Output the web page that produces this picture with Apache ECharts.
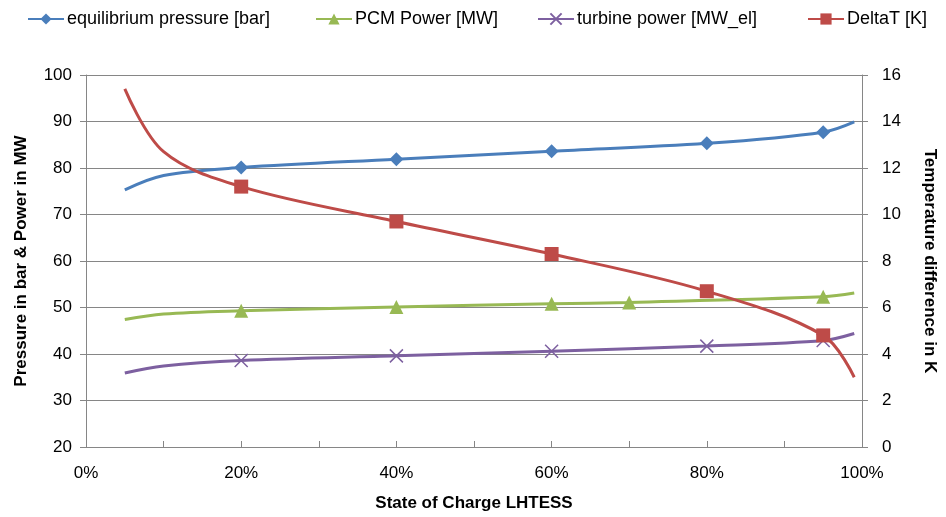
<!DOCTYPE html>
<html>
<head>
<meta charset="utf-8">
<script src="https://cdn.jsdelivr.net/npm/echarts@6/dist/echarts.min.js"></script>
<style>
    html, body {margin: 0; padding: 0; background: #fff;}
    #chart {width: 946px; height: 517px;}
</style>
</head>
<body>
<div id="chart"></div>
<script>
// state of charge (fraction) for each series
var socMain = [0.05, 0.10, 0.20, 0.40, 0.60, 0.80, 0.95, 0.99];
var socPcm = [0.05, 0.10, 0.20, 0.40, 0.60, 0.70, 0.95, 0.99];
var pressure = [75.3, 78.4, 80.1, 81.9, 83.6, 85.3, 87.7, 89.9];
var pcmPower = [47.4, 48.6, 49.3, 50.1, 50.8, 51.1, 52.3, 53.1];
var turbinePower = [35.9, 37.4, 38.6, 39.6, 40.6, 41.7, 42.9, 44.4];
var deltaT = [15.4, 12.7, 11.2, 9.7, 8.3, 6.7, 4.8, 3.0];
// which points carry a marker
var markedMain = [false, false, true, true, true, true, true, false];
var markedPcm = [false, false, true, true, true, true, true, false];
var leftTicks = [20, 100, 10];
var rightTicks = [0, 16, 2];
var names = ['equilibrium pressure [bar]', 'PCM Power [MW]', 'turbine power [MW_el]', 'DeltaT [K]'];

var font = 'Liberation Sans';
var gray = '#868686';

function pts(xs, ys, marks, sym) {
    var out = [];
    for (var i = 0; i < xs.length; i++) {
        out.push({value: [xs[i], ys[i]], symbol: marks[i] ? sym : 'none'});
    }
    return out;
}

// one legend per entry so each can sit where the original puts it
var legendLeft = [27, 315, 537, 807];
var legends = [];
for (var i = 0; i < names.length; i++) {
    legends.push({
        top: 10,
        left: legendLeft[i],
        padding: 0,
        itemWidth: 36,
        itemHeight: 14,
        itemGap: 4,
        textStyle: {fontSize: 18, color: '#000', fontFamily: font, padding: [0, 0, 0, -2]},
        data: [names[i]]
    });
}

var crossPath = 'path://M0,0L10,10M10,0L0,10';

var myChart = echarts.init(document.getElementById('chart'));
myChart.setOption({
    animation: false,
    textStyle: {fontFamily: font},
    legend: legends,
    grid: {left: 86, right: 70, top: 75, bottom: 69},
    xAxis: {
        type: 'value',
        min: 0, max: 1, interval: 0.1,
        name: 'State of Charge LHTESS',
        nameLocation: 'middle',
        nameGap: 48,
        nameTextStyle: {fontSize: 17, fontWeight: 'bold', color: '#000'},
        axisLine: {lineStyle: {color: gray}},
        axisTick: {show: true, inside: true, length: 6, lineStyle: {color: gray}},
        splitLine: {show: false},
        axisLabel: {
            fontSize: 17, color: '#000', margin: 18,
            formatter: function (v) {
                var p = Math.round(v * 100);
                return p % 20 === 0 ? p + '%' : '';
            }
        }
    },
    yAxis: [{
        type: 'value',
        min: leftTicks[0], max: leftTicks[1], interval: leftTicks[2],
        name: 'Pressure in bar & Power in MW',
        nameLocation: 'middle',
        nameGap: 56,
        nameTextStyle: {fontSize: 17, fontWeight: 'bold', color: '#000'},
        axisLine: {show: true, lineStyle: {color: gray}},
        axisTick: {show: true, length: 6, lineStyle: {color: gray}},
        axisLabel: {fontSize: 17, color: '#000', margin: 14},
        splitLine: {lineStyle: {color: gray}}
    }, {
        type: 'value',
        min: rightTicks[0], max: rightTicks[1], interval: rightTicks[2],
        name: 'Temperature difference in K',
        nameLocation: 'middle',
        nameRotate: 270,
        nameGap: 59,
        nameTextStyle: {fontSize: 17, fontWeight: 'bold', color: '#000'},
        axisLine: {show: true, lineStyle: {color: gray}},
        axisTick: {show: true, length: 6, lineStyle: {color: gray}},
        axisLabel: {fontSize: 17, color: '#000', margin: 20},
        splitLine: {show: false}
    }],
    series: [{
        name: names[0],
        type: 'line',
        smooth: 0.35,
        symbol: 'diamond',
        symbolSize: 14,
        color: '#4A7EBB',
        lineStyle: {width: 3, color: '#4A7EBB'},
        data: pts(socMain, pressure, markedMain, 'diamond')
    }, {
        name: names[1],
        type: 'line',
        smooth: 0.35,
        symbol: 'triangle',
        symbolSize: 14,
        color: '#98B954',
        lineStyle: {width: 3, color: '#98B954'},
        data: pts(socPcm, pcmPower, markedPcm, 'triangle')
    }, {
        name: names[2],
        type: 'line',
        smooth: 0.35,
        symbol: crossPath,
        symbolSize: 13,
        color: '#7D60A0',
        itemStyle: {color: 'none', borderColor: '#7D60A0', borderWidth: 1.5},
        lineStyle: {width: 3, color: '#7D60A0'},
        data: pts(socMain, turbinePower, markedMain, crossPath)
    }, {
        name: names[3],
        type: 'line',
        yAxisIndex: 1,
        smooth: 0.35,
        symbol: 'rect',
        symbolSize: 14,
        color: '#BE4B48',
        lineStyle: {width: 3, color: '#BE4B48'},
        data: pts(socMain, deltaT, markedMain, 'rect')
    }]
});
</script>
</body>
</html>
